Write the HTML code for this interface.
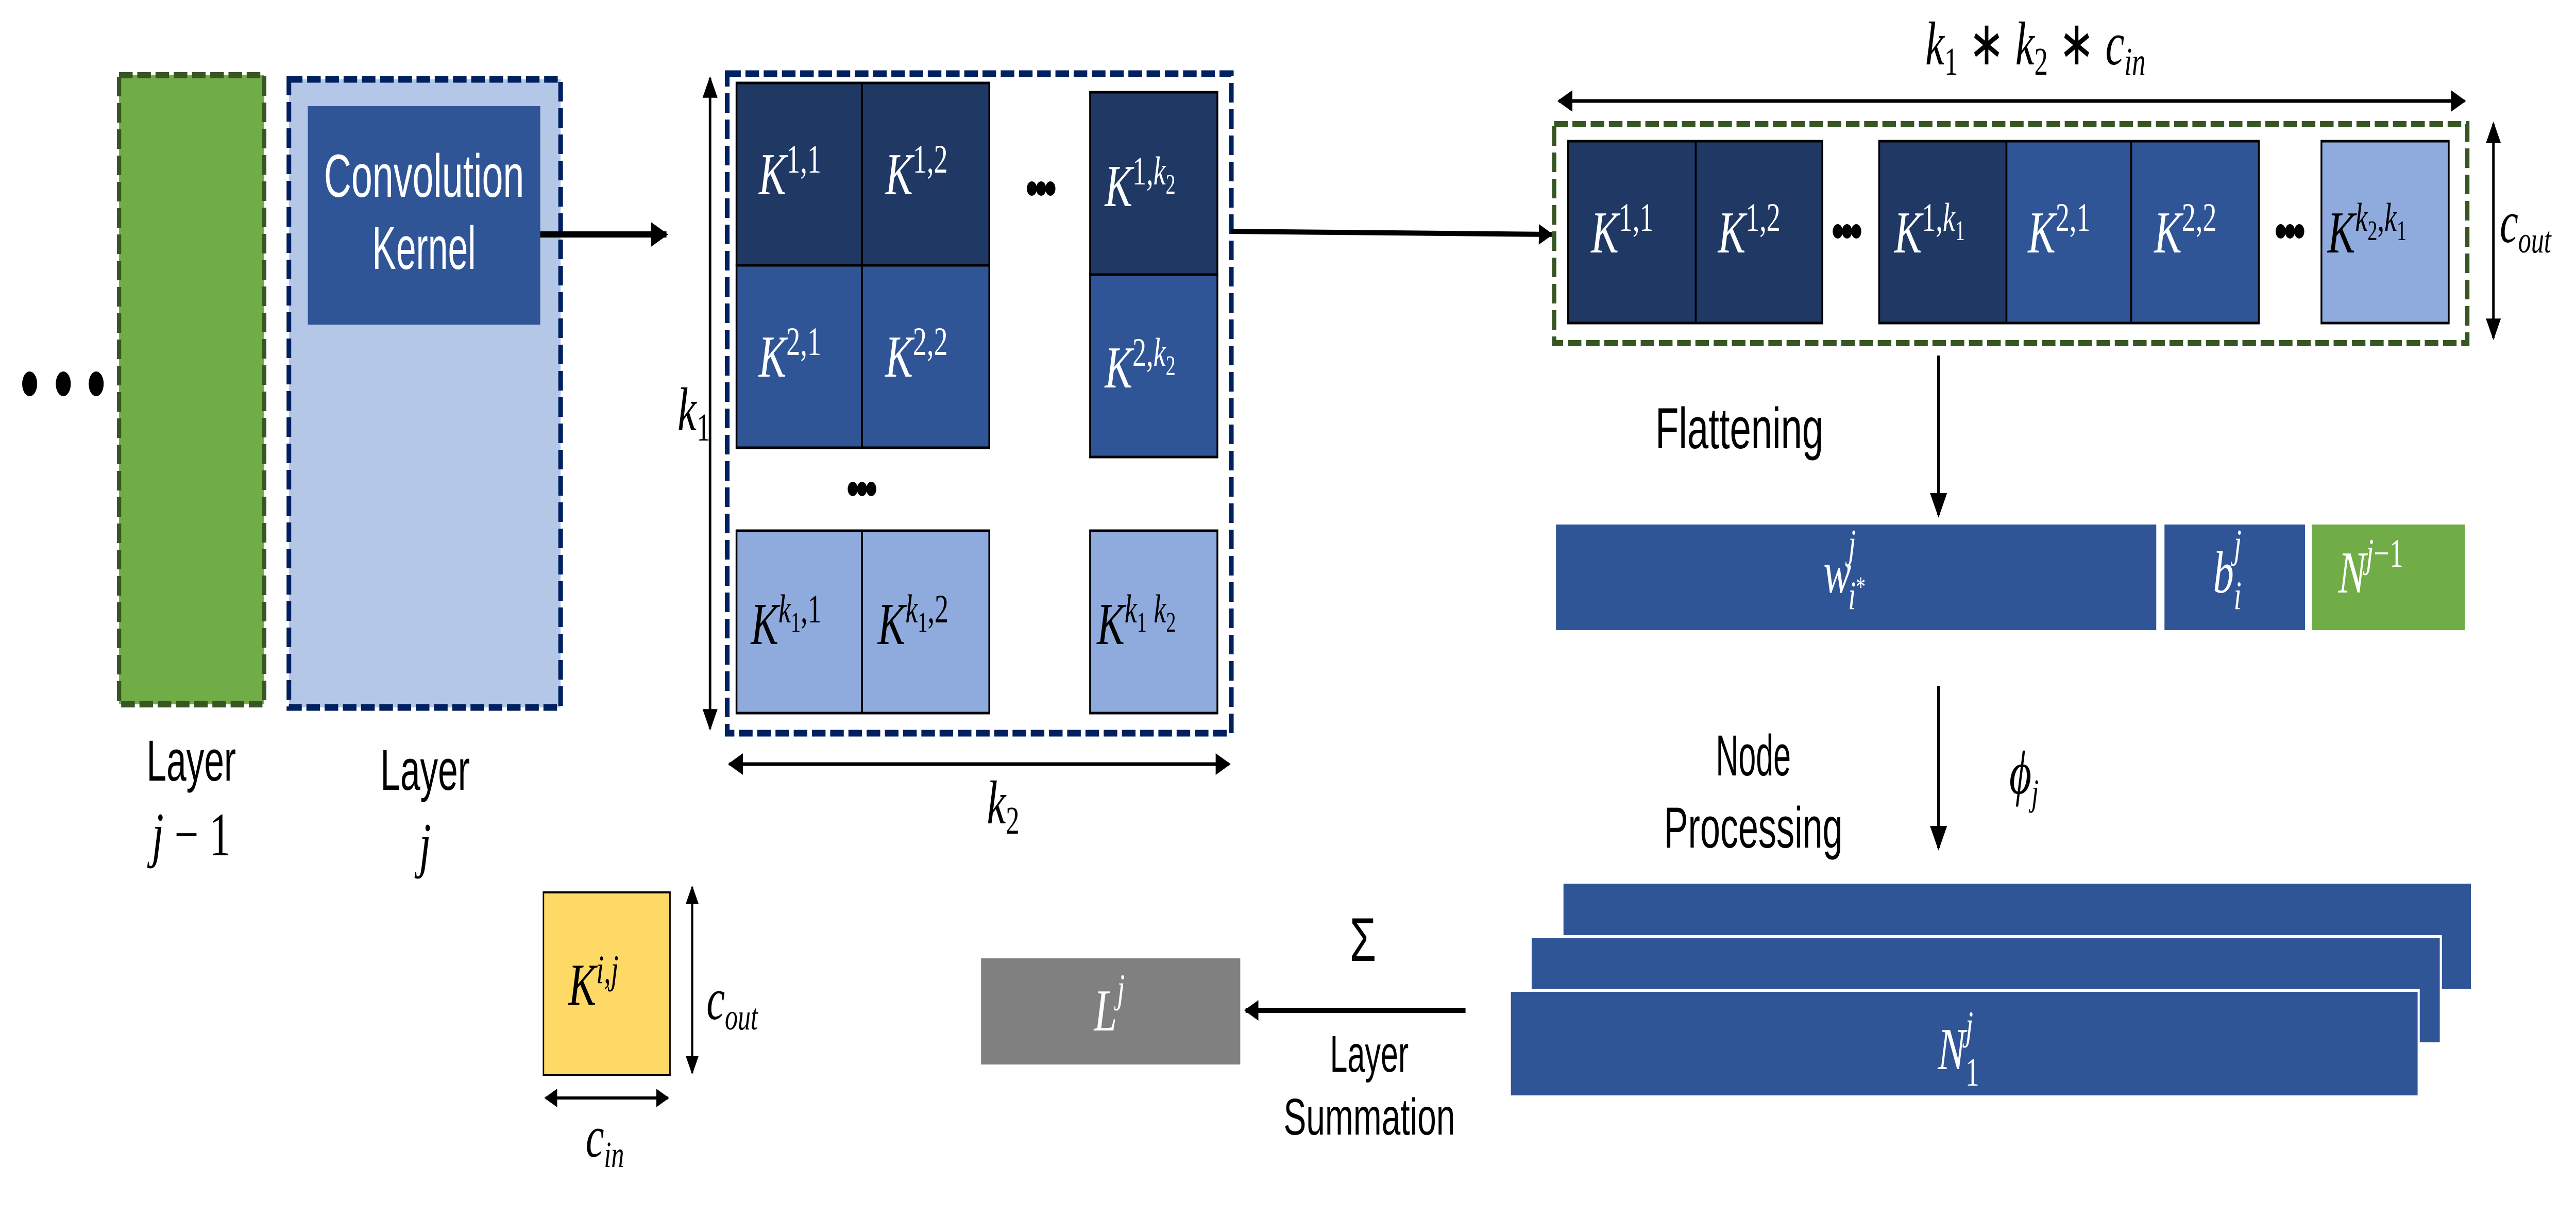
<!DOCTYPE html>
<html><head><meta charset="utf-8"><style>
html,body{margin:0;padding:0;background:#fff;overflow:hidden;width:100%;height:100%;}
svg{display:block;position:fixed;left:0;top:0;width:100vw;height:100vh;}
.m{font-family:"Liberation Serif",serif;font-style:italic;}
.s{font-family:"Liberation Sans",sans-serif;}
</style></head><body>
<svg viewBox="0 0 7205 2362" preserveAspectRatio="none" xmlns="http://www.w3.org/2000/svg">
<defs>
<marker id="ah" viewBox="0 0 10 10" refX="9" refY="5" markerWidth="4" markerHeight="4" orient="auto-start-reverse" markerUnits="strokeWidth"><path d="M0,0 L10,5 L0,10 Z" fill="#000"/></marker>
<marker id="ah2" viewBox="0 0 10 10" refX="9" refY="5" markerWidth="6" markerHeight="6" orient="auto-start-reverse" markerUnits="strokeWidth"><path d="M0,0 L10,5 L0,10 Z" fill="#000"/></marker>
</defs>

<ellipse cx="83" cy="745" rx="21" ry="24" fill="#000"/>
<ellipse cx="177" cy="745" rx="21" ry="24" fill="#000"/>
<ellipse cx="269" cy="745" rx="21" ry="24" fill="#000"/>

<rect x="333" y="146" width="406" height="1221" fill="#70AD47" stroke="#375623" stroke-width="12" stroke-dasharray="38 13"/>
<rect x="808" y="154" width="760" height="1219" fill="#B4C7E7" stroke="#002060" stroke-width="13" stroke-dasharray="38 13"/>
<rect x="861" y="206" width="650" height="424" fill="#2F5597"/>
<text x="1186" y="382" class="s" font-size="118" fill="#fff" text-anchor="middle" textLength="560" lengthAdjust="spacingAndGlyphs">Convolution</text>
<text x="1186" y="522" class="s" font-size="118" fill="#fff" text-anchor="middle" textLength="290" lengthAdjust="spacingAndGlyphs">Kernel</text>

<text x="535" y="1515" class="s" font-size="112" text-anchor="middle" textLength="250" lengthAdjust="spacingAndGlyphs">Layer</text>
<text x="535" y="1660" class="m" font-size="120" text-anchor="middle">j <tspan font-style="normal">− 1</tspan></text>
<text x="1189" y="1533" class="s" font-size="112" text-anchor="middle" textLength="250" lengthAdjust="spacingAndGlyphs">Layer</text>
<text x="1189" y="1680" class="m" font-size="120" text-anchor="middle">j</text>

<line x1="1511" y1="455" x2="1864" y2="455" stroke="#000" stroke-width="12" marker-end="url(#ah)"/>

<rect x="2034" y="143" width="1410" height="1280" fill="none" stroke="#002060" stroke-width="13" stroke-dasharray="38 13"/>
<g stroke="#000" stroke-width="5">
<rect x="2060" y="161" width="351" height="354" fill="#203864"/>
<rect x="2411" y="161" width="356" height="354" fill="#203864"/>
<rect x="3049" y="179" width="356" height="354" fill="#203864"/>
<rect x="2060" y="515" width="351" height="354" fill="#2F5597"/>
<rect x="2411" y="515" width="356" height="354" fill="#2F5597"/>
<rect x="3049" y="533" width="356" height="354" fill="#2F5597"/>
<rect x="2060" y="1030" width="351" height="354" fill="#8FAADC"/>
<rect x="2411" y="1030" width="356" height="354" fill="#8FAADC"/>
<rect x="3049" y="1030" width="356" height="354" fill="#8FAADC"/>
</g>
<g class="m" font-size="116" fill="#fff">
<text x="2122" y="377">K<tspan font-style="normal" font-size="78" dy="-42">1,1</tspan></text>
<text x="2476" y="377">K<tspan font-style="normal" font-size="78" dy="-42">1,2</tspan></text>
<text x="3090" y="400">K<tspan font-style="normal" font-size="78" dy="-42">1,</tspan><tspan font-size="78">k</tspan><tspan font-style="normal" font-size="55" dy="18">2</tspan></text>
<text x="2122" y="731">K<tspan font-style="normal" font-size="78" dy="-42">2,1</tspan></text>
<text x="2476" y="731">K<tspan font-style="normal" font-size="78" dy="-42">2,2</tspan></text>
<text x="3090" y="752">K<tspan font-style="normal" font-size="78" dy="-42">2,</tspan><tspan font-size="78">k</tspan><tspan font-style="normal" font-size="55" dy="18">2</tspan></text>
</g>
<g class="m" font-size="116" fill="#000">
<text x="2100" y="1250">K<tspan font-size="78" dy="-42">k</tspan><tspan font-style="normal" font-size="55" dy="18">1</tspan><tspan font-style="normal" font-size="78" dy="-18">,1</tspan></text>
<text x="2455" y="1250">K<tspan font-size="78" dy="-42">k</tspan><tspan font-style="normal" font-size="55" dy="18">1</tspan><tspan font-style="normal" font-size="78" dy="-18">,2</tspan></text>
<text x="3068" y="1250">K<tspan font-size="78" dy="-42">k</tspan><tspan font-style="normal" font-size="55" dy="18">1</tspan><tspan font-size="78" dy="-18"> k</tspan><tspan font-style="normal" font-size="55" dy="18">2</tspan></text>
</g>
<g fill="#000">
<circle cx="2886" cy="366" r="14"/><circle cx="2912" cy="366" r="14"/><circle cx="2938" cy="366" r="14"/>
<circle cx="2385" cy="949" r="14"/><circle cx="2411" cy="949" r="14"/><circle cx="2437" cy="949" r="14"/>
</g>
<line x1="1986" y1="152" x2="1986" y2="1414" stroke="#000" stroke-width="7" marker-start="url(#ah2)" marker-end="url(#ah2)"/>
<text x="1895" y="835" class="m" font-size="120">k<tspan font-style="normal" font-size="76" dy="20">1</tspan></text>
<line x1="2040" y1="1483" x2="3438" y2="1483" stroke="#000" stroke-width="7" marker-start="url(#ah2)" marker-end="url(#ah2)"/>
<text x="2760" y="1598" class="m" font-size="120">k<tspan font-style="normal" font-size="76" dy="20">2</tspan></text>

<line x1="3444" y1="449" x2="4340" y2="455" stroke="#000" stroke-width="10" marker-end="url(#ah)"/>

<text x="5693" y="125" class="m" font-size="120" text-anchor="middle">k<tspan font-style="normal" font-size="76" dy="20">1</tspan><tspan font-style="normal" dy="-20"> ∗ </tspan>k<tspan font-style="normal" font-size="76" dy="20">2</tspan><tspan font-style="normal" dy="-20"> ∗ </tspan>c<tspan font-size="76" dy="20">in</tspan></text>
<line x1="4360" y1="196" x2="6893" y2="196" stroke="#000" stroke-width="7" marker-start="url(#ah2)" marker-end="url(#ah2)"/>

<rect x="4347" y="241" width="2554" height="425" fill="none" stroke="#375623" stroke-width="12" stroke-dasharray="38 13"/>
<g stroke="#000" stroke-width="5">
<rect x="4386" y="274" width="357" height="353" fill="#203864"/>
<rect x="4743" y="274" width="354" height="353" fill="#203864"/>
<rect x="5256" y="274" width="356" height="353" fill="#203864"/>
<rect x="5612" y="274" width="349" height="353" fill="#2F5597"/>
<rect x="5961" y="274" width="357" height="353" fill="#2F5597"/>
<rect x="6493" y="274" width="356" height="353" fill="#8FAADC"/>
</g>
<g class="m" font-size="116" fill="#fff">
<text x="4450" y="490">K<tspan font-style="normal" font-size="78" dy="-42">1,1</tspan></text>
<text x="4805" y="490">K<tspan font-style="normal" font-size="78" dy="-42">1,2</tspan></text>
<text x="5298" y="490">K<tspan font-style="normal" font-size="78" dy="-42">1,</tspan><tspan font-size="78">k</tspan><tspan font-style="normal" font-size="55" dy="18">1</tspan></text>
<text x="5672" y="490">K<tspan font-style="normal" font-size="78" dy="-42">2,1</tspan></text>
<text x="6025" y="490">K<tspan font-style="normal" font-size="78" dy="-42">2,2</tspan></text>
</g>
<text x="6510" y="490" class="m" font-size="116" fill="#000">K<tspan font-size="78" dy="-42">k</tspan><tspan font-style="normal" font-size="55" dy="18">2</tspan><tspan font-style="normal" font-size="78" dy="-18">,</tspan><tspan font-size="78">k</tspan><tspan font-style="normal" font-size="55" dy="18">1</tspan></text>
<g fill="#000">
<circle cx="5140" cy="449" r="14"/><circle cx="5166" cy="449" r="14"/><circle cx="5192" cy="449" r="14"/>
<circle cx="6379" cy="449" r="14"/><circle cx="6405" cy="449" r="14"/><circle cx="6431" cy="449" r="14"/>
</g>
<line x1="6974" y1="240" x2="6974" y2="656" stroke="#000" stroke-width="7" marker-start="url(#ah2)" marker-end="url(#ah2)"/>
<text x="6992" y="470" class="m" font-size="116">c<tspan font-size="72" dy="20">out</tspan></text>

<line x1="5422" y1="690" x2="5422" y2="1000" stroke="#000" stroke-width="8" marker-end="url(#ah2)"/>
<text x="4865" y="870" class="s" font-size="112" text-anchor="middle" textLength="470" lengthAdjust="spacingAndGlyphs">Flattening</text>

<rect x="4352" y="1018" width="1679" height="205" fill="#2F5597"/>
<rect x="6054" y="1018" width="393" height="205" fill="#2F5597"/>
<rect x="6466" y="1018" width="428" height="205" fill="#70AD47"/>
<text x="5100" y="1150" class="m" font-size="116" fill="#fff">w<tspan font-size="78" dx="-8" dy="-68">j</tspan><tspan font-size="78" dx="-22" dy="100">i</tspan><tspan font-style="normal" font-size="55" dy="-25">*</tspan></text>
<text x="6190" y="1150" class="m" font-size="116" fill="#fff">b<tspan font-size="78" dy="-68">j</tspan><tspan font-size="78" dx="-22" dy="100">i</tspan></text>
<text x="6540" y="1150" class="m" font-size="116" fill="#fff">N<tspan font-size="78" dy="-50">j</tspan><tspan font-style="normal" font-size="78">−1</tspan></text>

<line x1="5422" y1="1331" x2="5422" y2="1646" stroke="#000" stroke-width="8" marker-end="url(#ah2)"/>
<text x="4904" y="1505" class="s" font-size="112" text-anchor="middle" textLength="210" lengthAdjust="spacingAndGlyphs">Node</text>
<text x="4904" y="1645" class="s" font-size="112" text-anchor="middle" textLength="500" lengthAdjust="spacingAndGlyphs">Processing</text>
<text x="5620" y="1540" class="m" font-size="120">ϕ<tspan font-size="72" dy="22">j</tspan></text>

<rect x="4370" y="1712" width="2544" height="210" fill="#2F5597" stroke="#fff" stroke-width="6"/>
<rect x="4281" y="1818" width="2546" height="208" fill="#2F5597" stroke="#fff" stroke-width="6"/>
<rect x="4223" y="1922" width="2542" height="207" fill="#2F5597" stroke="#fff" stroke-width="6"/>
<text x="5420" y="2075" class="m" font-size="116" fill="#fff">N<tspan font-size="78" dy="-58">j</tspan><tspan font-style="normal" font-size="78" dx="-22" dy="90">1</tspan></text>

<text x="3812" y="1865" class="s" font-size="120" text-anchor="middle">Σ</text>
<line x1="4099" y1="1961" x2="3484" y2="1961" stroke="#000" stroke-width="10" marker-end="url(#ah)"/>
<text x="3830" y="2080" class="s" font-size="100" text-anchor="middle" textLength="220" lengthAdjust="spacingAndGlyphs">Layer</text>
<text x="3830" y="2202" class="s" font-size="100" text-anchor="middle" textLength="480" lengthAdjust="spacingAndGlyphs">Summation</text>

<rect x="2744" y="1860" width="725" height="206" fill="#808080"/>
<text x="3060" y="2000" class="m" font-size="116" fill="#fff">L<tspan font-size="78" dy="-55">j</tspan></text>

<rect x="1520" y="1732" width="354" height="354" fill="#FFD966" stroke="#000" stroke-width="4"/>
<text x="1590" y="1950" class="m" font-size="116">K<tspan font-size="78" dy="-42">i,j</tspan></text>
<line x1="1936" y1="1722" x2="1936" y2="2082" stroke="#000" stroke-width="6" marker-start="url(#ah2)" marker-end="url(#ah2)"/>
<text x="1976" y="1978" class="m" font-size="116">c<tspan font-size="72" dy="20">out</tspan></text>
<line x1="1526" y1="2131" x2="1868" y2="2131" stroke="#000" stroke-width="6" marker-start="url(#ah2)" marker-end="url(#ah2)"/>
<text x="1638" y="2245" class="m" font-size="116">c<tspan font-size="72" dy="20">in</tspan></text>
</svg>
</body></html>
